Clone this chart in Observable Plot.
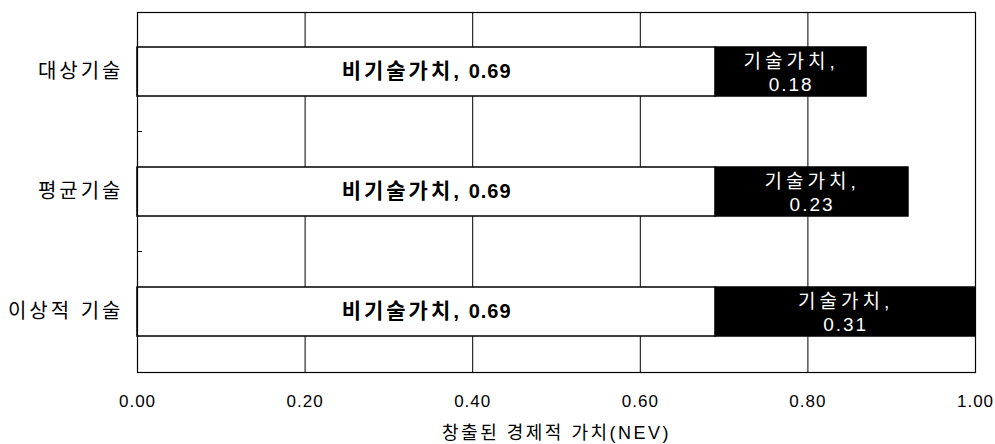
<!DOCTYPE html>
<html><head><meta charset="utf-8">
<script src="https://cdn.jsdelivr.net/npm/d3@7"></script>
<script src="https://cdn.jsdelivr.net/npm/@observablehq/plot@0.6"></script>
<style>
body{margin:0;background:#fff;font-family:"Liberation Sans","Noto Sans CJK KR",sans-serif;}
</style></head>
<body><div id="chart"></div>
<script>
const categories = ["대상기술", "평균기술", "이상적 기술"];
const nonTechValues = [0.69, 0.69, 0.69];
const techValues = [0.18, 0.23, 0.31];
const nonTechLabel = "비기술가치";
const techLabel = "기술가치";
const xTicks = [0, 0.2, 0.4, 0.6, 0.8, 1.0];
const xTitle = "창출된 경제적 가치(NEV)";

const segs = [];
categories.forEach((c, i) => {
  segs.push({cat: c, type: "non", x1: 0, x2: nonTechValues[i], v: nonTechValues[i]});
  segs.push({cat: c, type: "tech", x1: nonTechValues[i], x2: nonTechValues[i] + techValues[i], v: techValues[i]});
});
const fmt = d3.format(".2f");
const FONT = '"Liberation Sans","Noto Sans CJK KR",sans-serif';

const boundaryTicks = (index, scales, values, dims) => {
  const g = d3.create("svg:g");
  const y = scales.y, x = scales.x;
  const step = y.step();
  for (let i = 0; i < categories.length - 1; i++) {
    const yy = y(categories[i]) + y.bandwidth() / 2 + step / 2;
    g.append("line").attr("x1", x(0)).attr("x2", x(0) + 5)
      .attr("y1", yy).attr("y2", yy).attr("stroke", "black").attr("stroke-width", 1);
  }
  return g.node();
};

const chart = Plot.plot({
  width: 995, height: 444,
  marginLeft: 137, marginRight: 20, marginTop: 12, marginBottom: 72,
  style: {fontFamily: FONT, fontSize: "17px", color: "black", background: "white"},
  x: {domain: [0, 1], ticks: xTicks, tickFormat: fmt, label: null},
  y: {domain: categories, paddingInner: 0.59, paddingOuter: 0.295, label: null},
  marks: [
    Plot.ruleX(xTicks.slice(1, -1), {stroke: "black", strokeWidth: 1}),
    Plot.barX(segs, {y: "cat", x1: "x1", x2: "x2",
      fill: d => d.type === "non" ? "white" : "black",
      stroke: "black", strokeWidth: 1.5}),
    Plot.text(segs.filter(d => d.type === "non"), {y: "cat", x: d => (d.x1 + d.x2) / 2,
      text: d => `${nonTechLabel}, ${fmt(d.v)}`, fill: "black", fontWeight: "bold", fontSize: 20}),
    Plot.text(segs.filter(d => d.type === "tech"), {y: "cat", x: d => (d.x1 + d.x2) / 2,
      text: d => `${techLabel},\n${fmt(d.v)}`, fill: "white", fontSize: 19, lineHeight: 1.2}),
    Plot.frame({stroke: "black", strokeWidth: 1.2}),
    boundaryTicks,
    Plot.axisX({ticks: xTicks, tickFormat: fmt, tickSize: 0, tickPadding: 22, fontSize: 17, label: null}),
    Plot.axisY({tickSize: 0, tickPadding: 14, fontSize: 20, label: null}),
    Plot.text([xTitle], {frameAnchor: "bottom", dy: 66, fontSize: 18, fill: "black"})
  ]
});
document.getElementById("chart").appendChild(chart);
// letter spacing / glyph size to match the reference's wide typesetting
const NS = "http://www.w3.org/2000/svg";
chart.querySelectorAll("text").forEach(t => {
  const s = t.textContent;
  if (s.startsWith(nonTechLabel)) {
    const idx = s.indexOf(",") + 1;
    const a = s.slice(0, idx), b = s.slice(idx);
    t.textContent = "";
    const t1 = document.createElementNS(NS, "tspan");
    t1.textContent = a; t1.style.letterSpacing = "3px"; t1.style.fontSize = "21px";
    const t2 = document.createElementNS(NS, "tspan");
    t2.textContent = b; t2.style.letterSpacing = "1px";
    t.appendChild(t1); t.appendChild(t2);
  }
  else if (s.startsWith(techLabel)) {
    const spans = t.querySelectorAll("tspan");
    if (spans.length) {
      spans[0].style.letterSpacing = "4px";
      if (spans[1]) spans[1].style.letterSpacing = "2px";
    } else t.style.letterSpacing = "4px";
  }
  else if (categories.includes(s)) t.style.letterSpacing = "3px";
  else if (s === xTitle) t.style.letterSpacing = "2.5px";
  else t.style.letterSpacing = "1px";
});
</script>
</body></html>
